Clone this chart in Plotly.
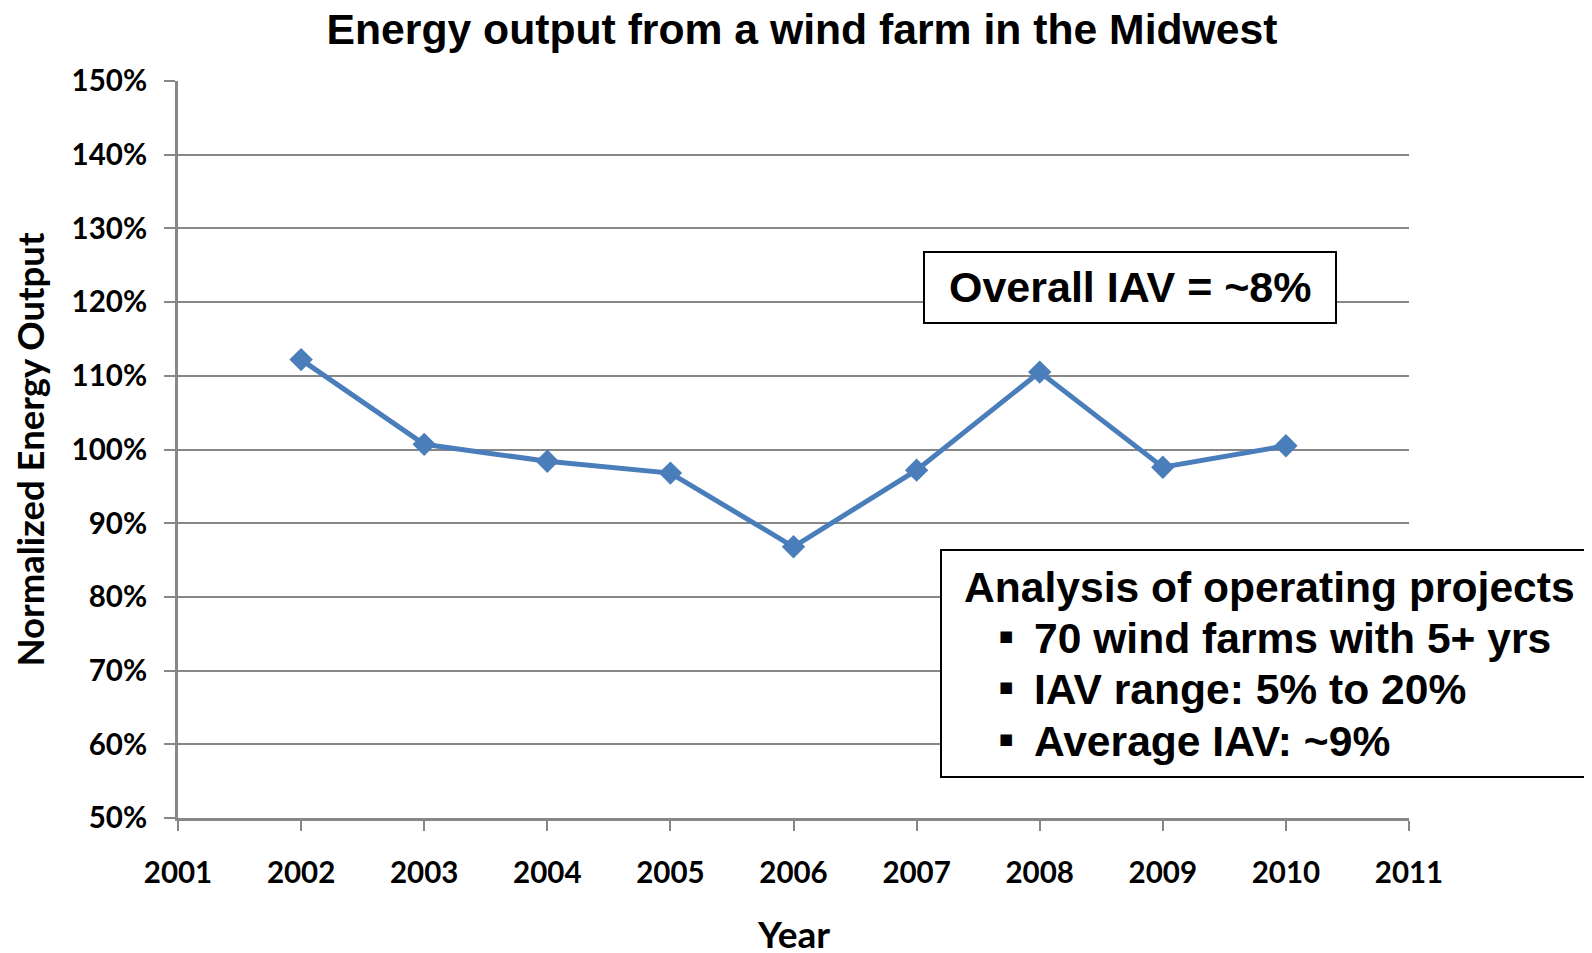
import plotly.graph_objects as go

years = [2002, 2003, 2004, 2005, 2006, 2007, 2008, 2009, 2010]
output_pct = [112.2, 100.7, 98.4, 96.8, 86.8, 97.2, 110.5, 97.6, 100.5]
x_ticks = list(range(2001, 2012))
y_ticks = list(range(50, 151, 10))

title_text = "Energy output from a wind farm in the Midwest"
x_title = "Year"
y_title = "Normalized Energy Output"
box1_text = "Overall IAV = ~8%"
box2_head = "Analysis of operating projects"
box2_items = ["70 wind farms with 5+ yrs", "IAV range: 5% to 20%", "Average IAV: ~9%"]

OFF = 8  # page body margin
W, H = 1592 - OFF, 953 - OFF
L, R, T, B = 178 - OFF, 183, 81 - OFF, 135
pw, ph = W - L - R, H - T - B

def px_x(p):
    return (p - OFF - L) / pw

def px_y(p):
    return (H - B - (p - OFF)) / ph

tick_font = dict(family="Lato", size=29.5, color="black", weight=700)
grid_col = "#878787"
box1_font = dict(family="Liberation Sans", size=43, color="black", weight=700)
box2_font = dict(family="Liberation Sans", size=42.6, color="black", weight=700)

fig = go.Figure()
fig.add_trace(go.Scatter(
    x=years, y=output_pct, mode="lines+markers",
    line=dict(color="#4A7EBB", width=5),
    marker=dict(symbol="diamond", size=18, color="#4A7EBB"),
    showlegend=False, hoverinfo="x+y",
))

fig.update_layout(
    width=W, height=H,
    margin=dict(l=L, r=R, t=T, b=B, autoexpand=False),
    paper_bgcolor="white", plot_bgcolor="white",
    title=dict(text=title_text, x=px_x(802), xref="paper", xanchor="center",
               y=1 - (29 - OFF) / H, yanchor="middle", yref="container",
               font=dict(family="Liberation Sans", size=42.7, color="black", weight=700)),
    xaxis=dict(range=[2001, 2011], tickvals=x_ticks, ticktext=[str(v) for v in x_ticks],
               showgrid=False, showline=True, linecolor=grid_col, linewidth=3,
               ticks="outside", ticklen=10, tickwidth=2, tickcolor=grid_col,
               tickfont=tick_font, ticklabelstandoff=17, zeroline=False),
    yaxis=dict(range=[50, 150], tickvals=y_ticks, ticktext=[f"{v}%" for v in y_ticks],
               showgrid=True, gridcolor=grid_col, gridwidth=2,
               showline=True, linecolor=grid_col, linewidth=3,
               ticks="outside", ticklen=11, tickwidth=2, tickcolor=grid_col,
               tickfont=tick_font, ticklabelstandoff=11, zeroline=False,
               title=dict(text=y_title, font=dict(family="Lato", size=36.5, color="black", weight=700),
                          standoff=21)),
)

# x-axis title placed as annotation
fig.add_annotation(text=x_title, xref="paper", yref="paper", x=px_x(793), y=px_y(933),
                   xanchor="center", yanchor="middle", showarrow=False,
                   font=dict(family="Lato", size=37, color="black", weight=700))

# boxes
fig.add_shape(type="rect", xref="paper", yref="paper",
              x0=px_x(924), x1=px_x(1336), y0=px_y(323), y1=px_y(252),
              line=dict(color="black", width=2), fillcolor="white", layer="above")
fig.add_shape(type="rect", xref="paper", yref="paper",
              x0=px_x(941), x1=px_x(1640), y0=px_y(777), y1=px_y(550),
              line=dict(color="black", width=2), fillcolor="white", layer="above")

fig.add_annotation(text=box1_text, xref="paper", yref="paper", x=px_x(1130), y=px_y(287),
                   xanchor="center", yanchor="middle", showarrow=False, font=box1_font)
fig.add_annotation(text=box2_head, xref="paper", yref="paper", x=px_x(962), y=px_y(587),
                   xanchor="left", yanchor="middle", showarrow=False, font=box2_font)
line_ys = [638, 689, 741]
for txt, ly in zip(box2_items, line_ys):
    fig.add_annotation(text="■", xref="paper", yref="paper", x=px_x(1006), y=px_y(ly - 2),
                       xanchor="center", yanchor="middle", showarrow=False,
                       font=dict(family="DejaVu Sans", size=15, color="black"))
    fig.add_annotation(text=txt, xref="paper", yref="paper", x=px_x(1032), y=px_y(ly),
                       xanchor="left", yanchor="middle", showarrow=False, font=box2_font)

fig.write_html("out.html")
